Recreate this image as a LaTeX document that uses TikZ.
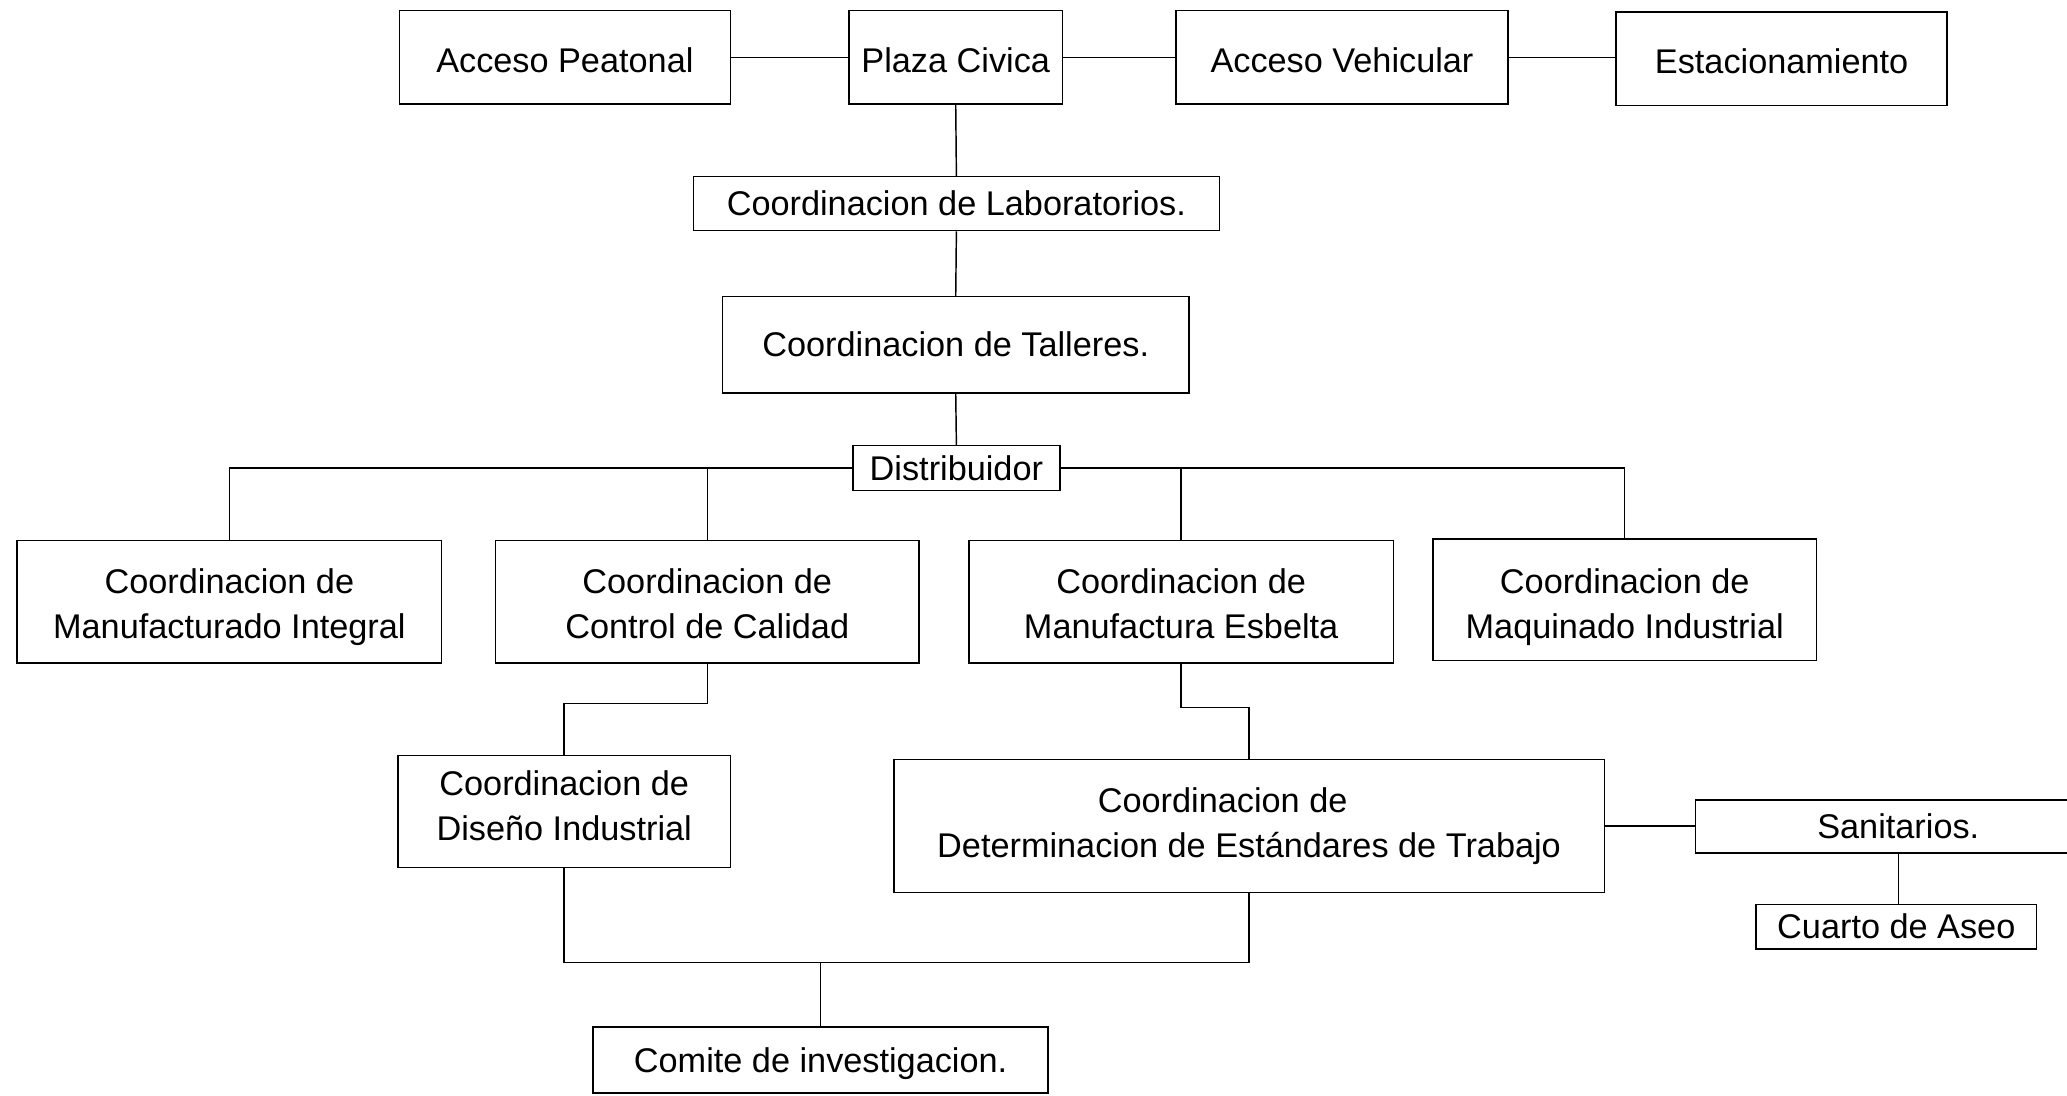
\documentclass[tikz,border=0pt]{standalone}
\usepackage{fontspec}
\setmainfont{Liberation Sans}
% text lowered by #1 while the box keeps its natural size
\newcommand{\dn}[2]{\raisebox{-#1}[\height][\depth]{#2}}
% centred lines of text, lowered by #1
\newcommand{\twolines}[2]{\raisebox{-#1}[\height][\depth]{\begin{tabular}{@{}c@{}}#2\end{tabular}}}
\begin{document}
\begin{tikzpicture}[x=1pt,y=-1pt,
  box/.style={draw, line width=1.1pt, inner sep=0pt,
    font=\fontsize{26}{34}\selectfont},
  link/.style={line width=1.1pt}]
\clip (0,0) rectangle (1568,831);
\fill[white] (0,0) rectangle (1568,831);

% top row
\node[box, minimum width=251, minimum height=71] (ap)  at (428.5,43.5) {\dn{2pt}{Acceso Peatonal}};
\node[box, minimum width=162, minimum height=71] (pc)  at (725,43.5)   {\dn{2pt}{Plaza Civica}};
\node[box, minimum width=252, minimum height=71] (av)  at (1018,43.5)  {\dn{2pt}{Acceso Vehicular}};
\node[box, minimum width=251, minimum height=71] (est) at (1351.5,44.5) {\dn{2pt}{Estacionamiento}};

% central spine
\node[box, minimum width=399, minimum height=41] (lab)  at (725.5,154.5) {Coordinacion de Laboratorios.};
\node[box, minimum width=354, minimum height=73] (tal)  at (725,261.5)   {Coordinacion de Talleres.};
\node[box, minimum width=157, minimum height=34] (dist) at (725.5,355)   {Distribuidor};

% coordinations
\node[box, minimum width=322, minimum height=93] (mi) at (174,456.5)   {\twolines{4pt}{Coordinacion de\\Manufacturado Integral}};
\node[box, minimum width=321, minimum height=93] (cc) at (536.5,456.5) {\twolines{4pt}{Coordinacion de\\Control de Calidad}};
\node[box, minimum width=322, minimum height=93] (me) at (896,456.5)   {\twolines{4pt}{Coordinacion de\\Manufactura Esbelta}};
\node[box, minimum width=291, minimum height=92] (mq) at (1232.5,455)  {\twolines{5.5pt}{Coordinacion de\\Maquinado Industrial}};

\node[box, minimum width=252, minimum height=85]  (di)  at (428,615.5)   {\twolines{-2pt}{Coordinacion de\\Diseño Industrial}};
\node[box, minimum width=539, minimum height=101] (det) at (947.5,626.5) {\twolines{0pt}{Coordinacion de\hspace*{40pt}\\Determinacion de Estándares de Trabajo}};

\node[box, minimum width=308, minimum height=40] (san) at (1440,627)   {Sanitarios.};
\node[box, minimum width=213, minimum height=34] (ca)  at (1438.5,703) {Cuarto de Aseo};

\node[box, minimum width=345, minimum height=50] (com) at (622.5,804) {\dn{3pt}{Comite de investigacion.}};

% connectors
\draw[link] (ap.east) -- (pc.west);
\draw[link] (pc.east) -- (av.west);
\draw[link] (av.east) -- (av.east -| est.west);
\draw[link] (pc.south) -- (lab.north);
\draw[link] (lab.south) -- (tal.north);
\draw[link] (tal.south) -- (dist.north);

\draw[link] (dist.west) -| (mi.north);
\draw[link] (cc.north) |- (dist.west);
\draw[link] (dist.east) -| (mq.north);
\draw[link] (me.north) |- (dist.east);

\draw[link] (cc.south) -- ++(0,30) -| (di.north);
\draw[link] (me.south) -- ++(0,33) -| (det.north);

\coordinate (j) at (622.5,730);
\draw[link] (di.south) |- (det.south |- j) -- (det.south);
\draw[link] (j) -- (com.north);

\draw[link] (det.east) -- (det.east -| san.west);
\draw[link] (san.south) -- (san.south |- ca.north);
\end{tikzpicture}
\end{document}
